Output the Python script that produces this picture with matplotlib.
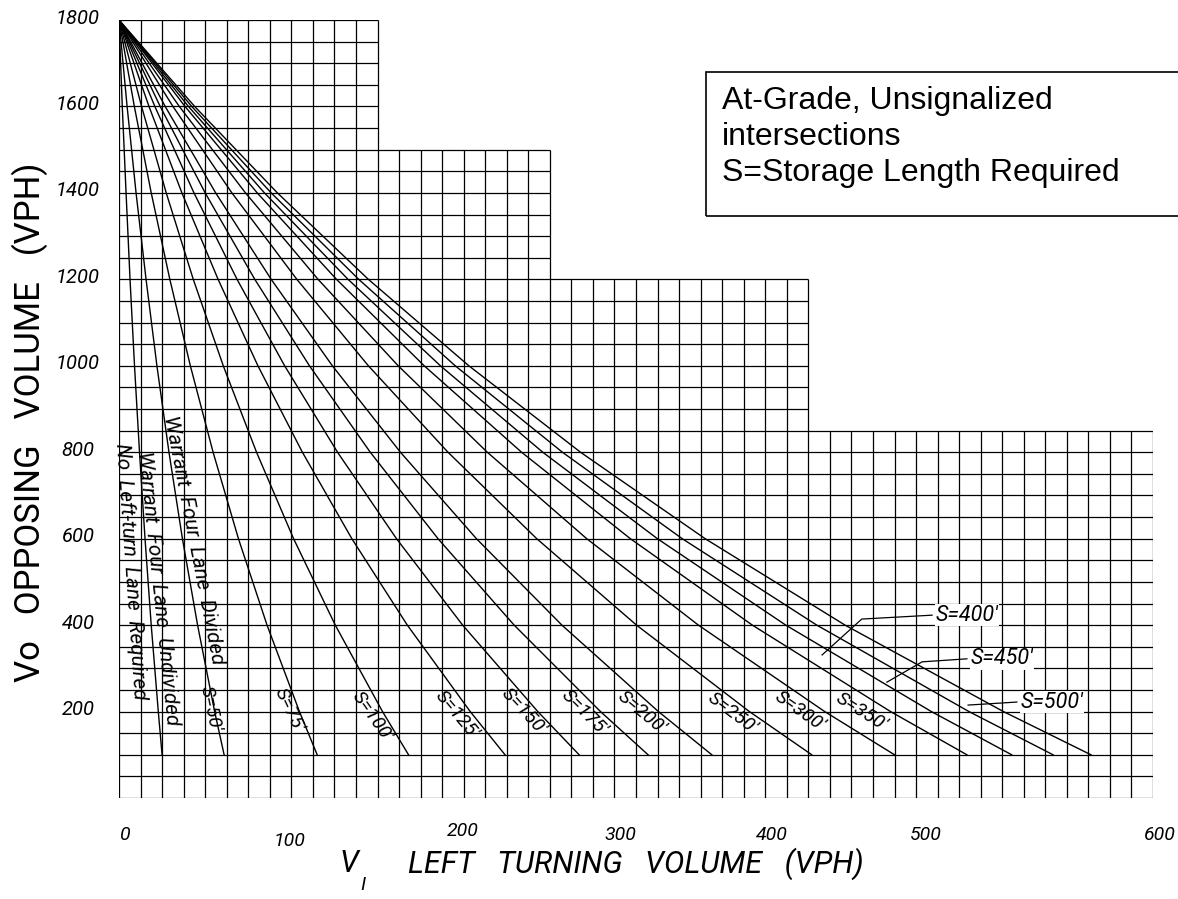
import numpy as np
import matplotlib
matplotlib.use("Agg")
import matplotlib.pyplot as plt
from matplotlib.patches import Rectangle

# Opposing volume levels (VPH) where each curve was read
vo_levels = [1800, 1600, 1400, 1200, 1000, 800, 600, 400, 200, 100]

# Left turning volume (VPH) on each curve at those levels
undivided = [0, 1.9, 4.1, 6.4, 9.0, 11.9, 15.1, 18.7, 22.8, 25]
s50 = [0, 4.7, 9.9, 15.7, 22.0, 29.0, 36.8, 45.6, 55.5, 61]
s75 = [0, 8.9, 18.7, 29.5, 41.4, 54.6, 69.3, 85.9, 104.7, 115]
s100 = [0, 13.1, 27.4, 43.1, 60.5, 79.8, 101.3, 125.5, 152.9, 168]
s125 = [0, 17.4, 36.5, 57.5, 80.6, 106.4, 135.1, 167.3, 203.8, 224]
s150 = [0, 20.8, 43.5, 68.5, 96.1, 126.8, 161.0, 199.4, 243.0, 267]
s175 = [0, 23.9, 50.0, 78.8, 110.5, 145.8, 185.1, 229.3, 279.4, 307]
s200 = [0, 26.8, 56.1, 88.3, 123.8, 163.3, 207.4, 257.0, 313.0, 344]
s250 = [0, 31.3, 65.5, 103.2, 144.7, 190.9, 242.4, 300.3, 365.8, 402]
s300 = [0, 35.0, 73.4, 115.5, 162.0, 213.7, 271.4, 336.2, 409.5, 450]
s350 = [0, 38.3, 80.2, 126.2, 177.1, 233.6, 296.7, 367.5, 447.7, 492]
s400 = [0, 40.3, 84.4, 132.9, 186.5, 245.9, 312.4, 386.9, 471.4, 518]
s450 = [0, 42.2, 88.3, 139.1, 195.1, 257.3, 326.8, 404.9, 493.2, 542]
s500 = [0, 43.9, 91.9, 144.7, 203.0, 267.8, 340.1, 421.3, 513.2, 564]
curves = [undivided, s50, s75, s100, s125, s150, s175, s200,
          s250, s300, s350, s400, s450, s500]

# stepped chart paper: height of each block and how far right it goes
block_tops = [1800, 1500, 1200, 850]
block_rights = [150, 250, 400, 600]

x_ticks = [0, 100, 200, 300, 400, 500, 600]
y_ticks = [200, 400, 600, 800, 1000, 1200, 1400, 1600, 1800]

# drafting-style lettering
CAD = dict(family=["Roboto", "DejaVu Sans"])

fig = plt.figure(figsize=(11.78, 8.99), dpi=100)
ax = fig.add_axes([119 / 1178, 101 / 899, 1034 / 1178, 778 / 899])
ax.set_xlim(0, 600)
ax.set_ylim(0, 1800)
ax.axis("off")

# grid
for x in np.arange(0, 600.1, 12.5):
    top = max(t for t, r in zip(block_tops, block_rights) if x <= r + 1e-6)
    ax.vlines(x, 0, top, color="black", lw=0.9)
for y in np.arange(0, 1800.1, 50):
    right = max(r for t, r in zip(block_tops, block_rights) if y <= t + 1e-6)
    ax.hlines(y, 0, right, color="black", lw=0.9)

# storage curves
for c in curves:
    ax.plot(c, vo_levels, color="black", lw=1.0)

# axis numbers
x_nudge = [(6, 0), (-2, -6), (-1, 4), (-16, 0), (-36, 0), (-55, 0), (7, 0)]
for v, (dx, dy) in zip(x_ticks, x_nudge):
    ax.annotate(str(v), (v, 0), xytext=(dx, -37 + dy), textcoords="offset pixels",
                ha="center", va="center", fontsize=14, style="italic",
                annotation_clip=False, **CAD)
for v in y_ticks:
    ax.annotate(str(v), (0, v), xytext=(-41, 2), textcoords="offset pixels",
                ha="center", va="center", fontsize=14.5, style="italic",
                annotation_clip=False, **CAD)

fig.text(30 / 1178, 1 - 422 / 899, "Vo   OPPOSING   VOLUME   (VPH)", rotation=90,
         ha="center", va="center", fontsize=25, **CAD)
fig.text(340 / 1178, 1 - 864 / 899, "V", ha="left", va="center", fontsize=22,
         style="italic", **CAD)
fig.text(360 / 1178, 1 - 885 / 899, "I", ha="left", va="center", fontsize=14,
         style="italic", **CAD)
fig.text(408 / 1178, 1 - 864 / 899, "LEFT   TURNING   VOLUME   (VPH)",
         ha="left", va="center", fontsize=22, style="italic", **CAD)

# curve labels
side_labels = ["No  Left-turn  Lane  Required", "Warrant  Four  Lane  Undivided",
               "Warrant  Four  Lane  Divided"]
side_pos = [(7, 525), (22.6, 486), (43.5, 597)]
side_rot = [-86, -84, -79]
for t, (px, py), r in zip(side_labels, side_pos, side_rot):
    ax.text(px, py, t, rotation=r, ha="center", va="center", fontsize=15,
            style="italic", rotation_mode="anchor", **CAD)

s_labels = ["S=50'", "S=75'", "S=100'", "S=125'", "S=150'", "S=175'", "S=200'",
            "S=250'", "S=300'", "S=350'"]
s_pos = [(52.8, 208), (98.6, 204), (147, 190), (196, 194), (235, 201), (270, 197),
         (303, 197), (356, 197), (395, 201), (430.6, 199)]
s_rot = [-78, -65, -55, -50, -47, -45, -40, -37, -35, -32]
for t, (px, py), r in zip(s_labels, s_pos, s_rot):
    ax.text(px, py, t, rotation=r, ha="center", va="center", fontsize=14,
            style="italic", rotation_mode="anchor", **CAD)

# leader labels
leaders = [("S=400'", [(408, 331), (431, 414), (471.8, 423)]),
           ("S=450'", [(445.6, 268), (466, 315), (492, 322)]),
           ("S=500'", [(492.7, 215), (521, 222)])]
for t, pts in leaders:
    xs, ys = zip(*pts)
    ax.plot(xs, ys, color="black", lw=0.9)
    ax.text(xs[-1] + 2, ys[-1], t, ha="left", va="center", fontsize=15.5,
            style="italic", bbox=dict(fc="white", ec="none", pad=0.5), **CAD)

# legend box
fig.add_artist(Rectangle((706 / 1178, 1 - 216 / 899), 0.45, 144 / 899,
                         transform=fig.transFigure, fill=False, ec="black", lw=1.2))
for i, line in enumerate(["At-Grade, Unsignalized", "intersections",
                          "S=Storage Length Required"]):
    fig.text(722 / 1178, 1 - (101 + 36 * i) / 899, line, ha="left", va="center",
             fontsize=23, family=["Liberation Sans"])

fig.savefig("out.png", dpi=100)
